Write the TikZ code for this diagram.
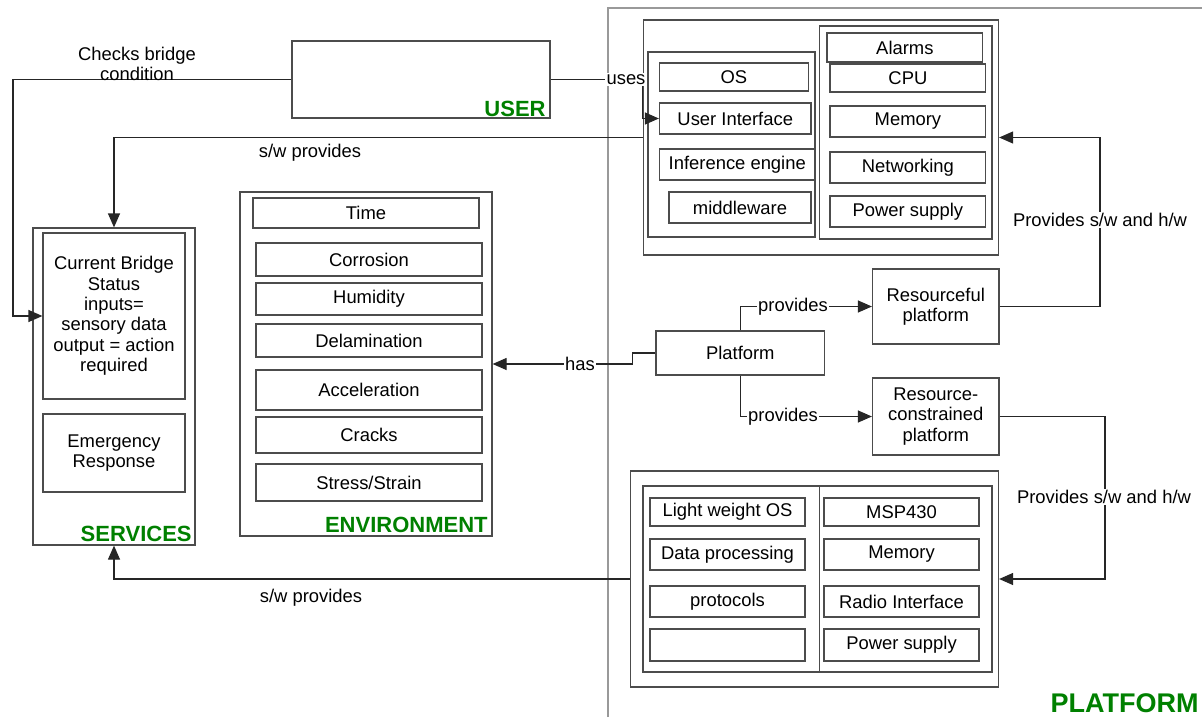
\documentclass[tikz,border=0pt]{standalone}
\usepackage{fontspec}
\setmainfont{Liberation Sans}
\usetikzlibrary{arrows.meta}
\definecolor{lbl}{RGB}{0,128,0}
\tikzset{
  txt/.style={font=\fontsize{9.2}{10.2}\selectfont, align=center},
  box/.style={txt, draw=black!70, line width=0.6pt, inner sep=0pt},
  conn/.style={draw=black!85, line width=0.6pt},
  arr/.style={conn, -{Triangle[length=7pt,width=6pt]}},
  lab/.style={txt, inner sep=0.6pt},
  wlab/.style={lab, fill=white},
  grp/.style={font=\fontsize{11}{12}\selectfont\bfseries, text=lbl, inner sep=0pt},
  border/.style={draw=black!40, line width=0.6pt},
}
\newcommand\bx[6]{\node[box, minimum width={(#4-#2)*0.5pt}, minimum height={(#5-#3)*0.5pt}] (#1) at ({(#2+#4)/2},{(#3+#5)/2}) {#6};}
\begin{document}
\begin{tikzpicture}[x=0.5pt,y=-0.5pt]
\useasboundingbox (0,0) rectangle (1202,717);
% platform area border
\draw[border] (608,717) -- (608,8) -- (1202,8);

% USER
\bx{user}{292}{41}{550}{118}{}
\node[grp, anchor=base east] (userlbl) at (546,116) {USER};

% upper platform (resourceful)
\bx{swhw}{643.4}{20}{998.5}{255}{}
\bx{sw}{648}{52}{815}{237}{}
\bx{hw}{819.6}{26}{992}{239}{}
\bx{os}{659.5}{63}{808.4}{91}{OS}
\bx{ui}{659.5}{103}{811}{134}{User Interface}
\bx{inf}{659.5}{149}{815}{180}{Inference engine}
\bx{mid}{669}{192}{811}{223}{middleware}
\bx{alarm}{827}{33}{982.7}{62}{Alarms}
\bx{cpu}{830}{64}{985.8}{92}{CPU}
\bx{mem}{830}{106}{985.8}{137}{Memory}
\bx{net}{830}{152}{985.8}{183}{Networking}
\bx{pow}{830}{196}{985.8}{227}{Power supply}

% SERVICES
\bx{serv}{33}{228}{195}{545}{}
\bx{cbs}{43}{233}{185}{399}{Current Bridge\\Status\\inputs=\\sensory data\\output = action\\required}
\bx{emr}{43}{414}{185}{492}{Emergency\\Response}
\node[grp, anchor=base east] (servlbl) at (192,541) {SERVICES};

% ENVIRONMENT
\bx{env}{240}{192}{492}{536}{}
\bx{time}{253}{198}{479}{228}{Time}
\bx{corr}{256}{243}{482}{276}{Corrosion}
\bx{hum}{256}{283}{482}{315}{Humidity}
\bx{del}{256}{324}{482}{357}{Delamination}
\bx{acc}{256}{370}{482}{410}{Acceleration}
\bx{crk}{256}{417}{482}{453}{Cracks}
\bx{str}{256}{464}{482}{501}{Stress/Strain}
\node[grp, anchor=base east] (envlbl) at (488,532) {ENVIRONMENT};

% platform nodes
\bx{plat}{656}{331}{824.6}{375}{Platform}
\bx{rful}{872.5}{269}{999}{344}{Resourceful\\platform}
\bx{rc}{872.5}{378}{999}{455}{Resource-\\constrained\\platform}

% lower platform (resource-constrained)
\bx{lower}{630.7}{471}{998.5}{687}{}
\bx{lsw}{643}{486}{819.6}{672}{}
\bx{lhw}{819.6}{486}{992}{672}{}
\bx{lwos}{650}{498}{805}{526}{Light weight OS}
\bx{dp}{650}{539}{805}{570}{Data processing}
\bx{prot}{650}{586}{805}{617}{protocols}
\bx{empty}{650}{629}{805}{661}{}
\bx{msp}{824}{498}{979}{526}{MSP430}
\bx{lmem}{824}{539}{979}{570}{Memory}
\bx{radio}{824}{586}{979}{617}{Radio Interface}
\bx{lpow}{824}{629}{979}{661}{Power supply}
\node[grp, font=\fontsize{13.5}{15}\selectfont\bfseries, anchor=base east] (platlbl) at (1199,712) {PLATFORM};

% connectors
\coordinate (c1) at (13,79.5);
\draw[arr] (user.west) -- (c1) |- (cbs.west);
\node[lab] (l1) at (137,64) {Checks bridge\\condition};

\draw[arr] (user.east) -- (swhw.west |- user.east) |- (ui.west);
\node[wlab] (l2) at (626,79.5) {uses};

\draw[arr] (swhw.west) -| (serv.north);
\node[lab] (l3) at (310,153) {s/w provides};

\coordinate (c2) at (632.6,353);
\draw[arr] (plat.west) -- (c2) |- (env.east);
\node[wlab] (l4) at (580,364) {has};

\draw[arr] (plat.north) |- (rful.west);
\node[wlab] (l5) at (793,306.5) {provides};
\draw[arr] (plat.south) |- (rc.west);
\node[wlab] (l6) at (783,416.5) {provides};

\coordinate (c3) at (1100,306.5);
\draw[arr] (rful.east) -- (c3) |- (swhw.east);
\node[wlab] (l7) at (1100,220) {Provides s/w and h/w};

\coordinate (c4) at (1105,416.5);
\draw[arr] (rc.east) -- (c4) |- (lower.east);
\node[wlab] (l8) at (1104,497) {Provides s/w and h/w};

\draw[arr] (lower.west) -| (serv.south);
\node[lab] (l9) at (311,598) {s/w provides};
\end{tikzpicture}
\end{document}
